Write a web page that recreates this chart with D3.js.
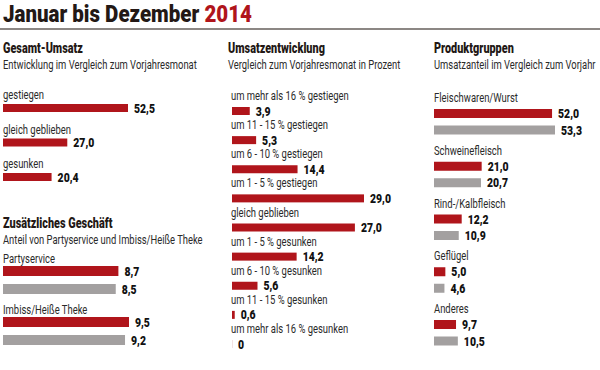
<!DOCTYPE html>
<html>
<head>
<meta charset="utf-8">
<script src="https://cdn.jsdelivr.net/npm/d3@7"></script>
<style>
  body { margin: 0; background: #fff; }
  svg { display: block; font-family: Roboto, "DejaVu Sans Condensed", sans-serif; }
  .title { font-size: 23px; font-weight: 900; fill: #231815; }
  .head { font-size: 14px; font-weight: 900; fill: #231815; }
  .sub { font-size: 12px; fill: #2a2a2a; }
  .lbl { font-size: 12.5px; fill: #2a2a2a; }
  .val { font-size: 12.5px; font-weight: 900; fill: #111; }
</style>
</head>
<body>
<div id="chart"></div>
<script>
// Gesamt-Umsatz
var gesamtLabels = ["gestiegen", "gleich geblieben", "gesunken"];
var gesamtValues = [52.5, 27.0, 20.4];

// Zusätzliches Geschäft (rot = 2014, grau = Vorjahr)
var zusatzLabels = ["Partyservice", "Imbiss/Heiße Theke"];
var zusatzCurrent = [8.7, 9.5];
var zusatzPrev = [8.5, 9.2];

// Umsatzentwicklung
var entwLabels = ["um mehr als 16 % gestiegen", "um 11 - 15 % gestiegen", "um 6 - 10 % gestiegen",
  "um 1 - 5 % gestiegen", "gleich geblieben", "um 1 - 5 % gesunken", "um 6 - 10 % gesunken",
  "um 11 - 15 % gesunken", "um mehr als 16 % gesunken"];
var entwValues = [3.9, 5.3, 14.4, 29.0, 27.0, 14.2, 5.6, 0.6, 0];

// Produktgruppen
var produktLabels = ["Fleischwaren/Wurst", "Schweinefleisch", "Rind-/Kalbfleisch", "Geflügel", "Anderes"];
var produktCurrent = [52.0, 21.0, 12.2, 5.0, 9.7];
var produktPrev = [53.3, 20.7, 10.9, 4.6, 10.5];

var RED = "#b0151b", GREY = "#a3a0a0";

var width = 600, height = 370;
var de = d3.formatLocale({decimal: ",", thousands: ".", grouping: [3], currency: ["", " €"]});
var fmt = function(v) { return v === 0 ? "0" : de.format(".1f")(v); };

var svg = d3.select("#chart").append("svg")
    .attr("width", width).attr("height", height);

// the print uses a condensed face: squeeze each text class to the width seen there
var squeeze = {};
function calib(cls, sample, target) {
  var tmp = svg.append("text").attr("class", cls).text(sample);
  squeeze[cls] = target / tmp.node().getComputedTextLength();
  tmp.remove();
}
calib("title", "Januar bis Dezember 2014", 249);
calib("head", "Gesamt-Umsatz", 80);
calib("sub", "Entwicklung im Vergleich zum Vorjahresmonat", 194);
calib("lbl", "Fleischwaren/Wurst", 84);
calib("val", "52,5", 21);

function txt(cls, x, y, s) {
  var el = svg.append("text").attr("class", cls)
      .attr("transform", "translate(" + x + "," + y + ") scale(" + squeeze[cls] + ",1)");
  if (s != null) el.text(s);
  return el;
}

// main title
var t = txt("title", 3, 21.5);
t.append("tspan").text("Januar bis Dezember ");
t.append("tspan").attr("fill", RED).text("2014");

svg.append("line")
    .attr("x1", 0).attr("x2", width).attr("y1", 29).attr("y2", 29)
    .attr("stroke", "#8c8784").attr("stroke-width", 2);

function header(x, y, head, sub) {
  txt("head", x, y, head);
  txt("sub", x, y + 16, sub);
}

function bar(x, y, v, h, color) {
  var w = x(v) - x(0);
  svg.append("rect")
      .attr("x", x(0)).attr("y", y)
      .attr("width", Math.max(w, 1)).attr("height", h)
      .attr("fill", v === 0 ? "#f2e2e2" : color);
  txt("val", x(v) + 6, y + h / 2 + 4.5, fmt(v));
}

// ---- Gesamt-Umsatz ----
header(3, 53, "Gesamt-Umsatz", "Entwicklung im Vergleich zum Vorjahresmonat");
var xG = d3.scaleLinear().domain([0, d3.max(gesamtValues)]).range([3, 128]);
var yG = d3.scalePoint().domain(gesamtLabels).range([104, 173]);
gesamtLabels.forEach(function(l, i) {
  txt("lbl", 3, yG(l) - 5, l);
  bar(xG, yG(l), gesamtValues[i], 8, RED);
});

// ---- Zusätzliches Geschäft ----
header(3, 228, "Zusätzliches Geschäft", "Anteil von Partyservice und Imbiss/Heiße Theke");
var xZ = d3.scaleLinear().domain([0, 9.5]).range([3, 129]);
var yZ = d3.scalePoint().domain(zusatzLabels).range([266, 317]);
zusatzLabels.forEach(function(l, i) {
  txt("lbl", 3, yZ(l) - 3, l);
  bar(xZ, yZ(l), zusatzCurrent[i], 10, RED);
  bar(xZ, yZ(l) + 18, zusatzPrev[i], 10, GREY);
});

// ---- Umsatzentwicklung ----
header(228, 53, "Umsatzentwicklung", "Vergleich zum Vorjahresmonat in Prozent");
var xE = d3.scaleLinear().domain([0, d3.max(entwValues)]).range([232, 364]);
var yE = d3.scalePoint().domain(entwLabels).range([107, 340]);
entwLabels.forEach(function(l, i) {
  txt("lbl", 231, yE(l) - 7, l);
  bar(xE, yE(l), entwValues[i], 8, RED);
});

// ---- Produktgruppen ----
header(434, 53, "Produktgruppen", "Umsatzanteil im Vergleich zum Vorjahr");
var xP = d3.scaleLinear().domain([0, d3.max(produktPrev)]).range([434, 555]);
var yP = d3.scalePoint().domain(produktLabels).range([109, 320]);
produktLabels.forEach(function(l, i) {
  txt("lbl", 434, yP(l) - 7, l);
  bar(xP, yP(l), produktCurrent[i], 9, RED);
  bar(xP, yP(l) + 16.5, produktPrev[i], 9, GREY);
});
</script>
</body>
</html>
